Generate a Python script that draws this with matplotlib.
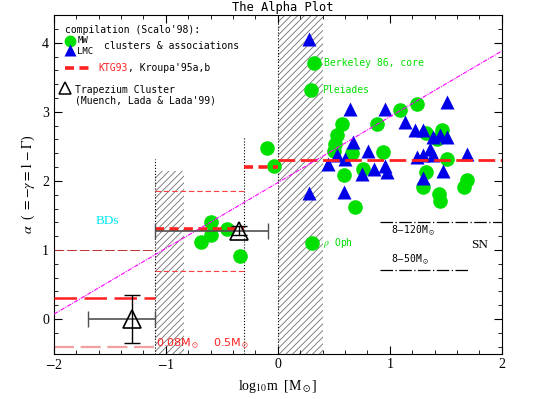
import matplotlib
matplotlib.use("Agg")
import matplotlib.pyplot as plt
import numpy as np

plt.rcParams['mathtext.fontset'] = 'stix'
plt.rcParams['hatch.color'] = '#707070'
plt.rcParams['hatch.linewidth'] = 0.6

# MW clusters & associations (Scalo'98 compilation)
mw_logm = [-0.60, -0.60, -0.69, -0.45, -0.34, -0.10, -0.03, 0.305, 0.32, 0.30,
           1.09, 0.57, 0.89, 0.53, 0.51, 0.50, 0.66, 0.94, 0.76, 0.59, 0.69,
           1.24, 1.32, 1.47, 1.42, 1.51, 1.32, 1.30, 1.44, 1.45, 1.69, 1.665]
mw_alpha = [1.40, 1.21, 1.11, 1.31, 0.91, 2.48, 2.21, 1.10, 3.71, 3.32,
            3.02, 2.82, 2.82, 2.67, 2.53, 2.44, 2.41, 2.42, 2.17, 2.08, 1.62,
            3.12, 2.70, 2.73, 2.61, 2.32, 2.13, 1.91, 1.81, 1.71, 2.02, 1.91]

# LMC clusters & associations
lmc_logm = [0.275, 0.647, 0.96, 1.51, 1.14, 0.67, 0.53, 0.81, 0.45, 0.60,
            0.75, 0.855, 0.96, 0.975, 0.28, 0.59,
            1.23, 1.30, 1.39, 1.45, 1.51, 1.36, 1.30, 1.39, 1.24, 1.69, 1.48, 1.30]
lmc_alpha = [4.05, 3.04, 3.04, 3.14, 2.85, 2.56, 2.37, 2.44, 2.25, 2.32,
             2.10, 2.17, 2.22, 2.13, 1.83, 1.84,
             2.74, 2.74, 2.63, 2.66, 2.64, 2.46, 2.37, 2.37, 2.34, 2.39, 2.14, 2.04]

# Trapezium (Muench, Lada & Lada'99)
trap_logm = [-1.30, -0.35]
trap_alpha = [0.0, 1.28]
trap_xlo = [-1.70, -1.10]
trap_xhi = [-1.10, -0.09]
trap_yerr = [0.35, 0.06]

# KTG93 / Kroupa'95 multi-part power law
ktg_edges = [-2.0, -1.1, -0.3, 0.0, 2.0]
ktg_alpha = [0.3, 1.3, 2.2, 2.3]
ktg_lo = [-0.4, 0.7]
ktg_hi = [1.0, 1.85]

# fit line (dash-dot)
fit_x = [-2.0, 2.0]
fit_y = [0.07, 3.88]

fig = plt.figure(figsize=(5.34, 3.99), dpi=100)
ax = fig.add_axes([0.101, 0.114, 0.8385, 0.848])

ax.set_xlim(-2, 2)
ax.set_ylim(-0.5, 4.4)

# hatched regions
ax.fill_between([-1.097, -0.84], -0.5, 2.15, facecolor='none', edgecolor='#707070',
                hatch='/////', linewidth=0)
ax.fill_between([0.0, 0.4], -0.5, 4.4, facecolor='none', edgecolor='#707070',
                hatch='/////', linewidth=0)

# dotted verticals
ax.plot([-1.097, -1.097], [-0.5, 2.32], color='k', ls=':', lw=0.8)
ax.plot([-0.301, -0.301], [-0.5, 2.63], color='k', ls=':', lw=0.8)
ax.plot([0.0, 0.0], [-0.5, 4.4], color='k', ls=':', lw=0.8)

# data points
ax.plot(mw_logm, mw_alpha, 'o', color='#00e000', ms=10.5, mec='none', zorder=3)
ax.plot(lmc_logm, lmc_alpha, '^', color='#0000e8', ms=10, mec='none', zorder=3)

# KTG93 segments
ax.plot(ktg_edges[0:2], [ktg_alpha[0]] * 2, color='#ff2020', lw=1.8, dashes=(9, 3), zorder=4)
ax.plot(ktg_edges[1:3], [ktg_alpha[1]] * 2, color='#ff2020', lw=2.6, dashes=(2.5, 1.5), zorder=4)
ax.plot(ktg_edges[2:4], [ktg_alpha[2]] * 2, color='#ff2020', lw=2.6, dashes=(2.5, 1.5), zorder=4)
ax.plot(ktg_edges[3:5], [ktg_alpha[3]] * 2, color='#ff2020', lw=2.0, dashes=(6, 2), zorder=4)
ax.plot(ktg_edges[0:2], [ktg_lo[0]] * 2, color='#f0a0a0', lw=1.6, dashes=(9, 3))
ax.plot(ktg_edges[0:2], [ktg_hi[0]] * 2, color='#c03030', lw=0.7, dashes=(10, 3))
ax.plot(ktg_edges[1:3], [ktg_lo[1]] * 2, color='#ff4040', lw=0.8, dashes=(5, 2.5))
ax.plot(ktg_edges[1:3], [ktg_hi[1]] * 2, color='#ff4040', lw=0.8, dashes=(5, 2.5))

# fit line
ax.plot(fit_x, fit_y, color='#ff00ff', lw=0.8, dashes=(4, 1, 1, 1), zorder=5)

# Trapezium points with error bars
for xm, ym, xl, xh, ye in zip(trap_logm, trap_alpha, trap_xlo, trap_xhi, trap_yerr):
    ax.errorbar([xm], [ym], xerr=[[xm - xl], [xh - xm]], fmt='none', ecolor='#505050',
                elinewidth=1.2, capsize=6, zorder=6)
    ax.errorbar([xm], [ym], yerr=ye, fmt='none', ecolor='k', elinewidth=1.0,
                capsize=6, zorder=6)
    ax.plot([xm], [ym], '^', mfc='none', mec='k', ms=13, mew=1.2, zorder=7)

# SN lines
mono = 'DejaVu Sans Mono'
ax.plot([0.91, 2.0], [1.40, 1.40], color='k', lw=0.9, dashes=(10, 2, 1, 2))
ax.plot([0.91, 1.71], [0.71, 0.71], color='k', lw=0.9, dashes=(10, 2, 1, 2))
ax.text(1.01, 1.27, '8$-$120M$_\\odot$', fontsize=7, family=mono, va='center')
ax.text(1.01, 0.85, '8$-$50M$_\\odot$', fontsize=7, family=mono, va='center')
ax.text(1.73, 1.07, 'SN', fontsize=9.5, family='Liberation Serif', va='center')

# labels on points
ax.text(0.41, 3.71, 'Berkeley 86, core', color='#00e000', fontsize=7, family=mono, va='center')
ax.text(0.40, 3.32, 'Pleiades', color='#00e000', fontsize=7, family=mono, va='center')
ax.text(0.40, 1.10, '$\\rho$ Oph', color='#00e000', fontsize=7, family=mono, va='center')
ax.text(-1.52, 1.42, 'BDs', color='#00e8f0', fontsize=9.5, family='Liberation Serif',
        ha='center', va='center')
ax.text(-1.09, -0.36, '0.08M$_\\odot$', color='#ff2020', fontsize=8, family='DejaVu Sans', va='center')
ax.text(-0.58, -0.36, '0.5M$_\\odot$', color='#ff2020', fontsize=8, family='DejaVu Sans', va='center')

# legend block
ax.text(-1.90, 4.18, "compilation (Scalo'98):", fontsize=7, family=mono, va='center')
ax.plot([-1.86], [4.03], 'o', color='#00e000', ms=8.5, mec='none')
ax.plot([-1.86], [3.89], '^', color='#0000e8', ms=8, mec='none')
ax.text(-1.79, 4.04, 'MW', fontsize=6.5, family=mono, va='center')
ax.text(-1.79, 3.88, 'LMC', fontsize=6.5, family=mono, va='center')
ax.text(-1.55, 3.96, 'clusters & associations', fontsize=7, family=mono, va='center')
ax.plot([-1.90, -1.67], [3.63, 3.63], color='#ff2020', lw=2.6, dashes=(2.5, 1.5))
ax.text(-1.60, 3.63, 'KTG93', color='#ff2020', fontsize=7, family=mono, va='center')
ax.text(-1.34, 3.63, ", Kroupa'95a,b", fontsize=7, family=mono, va='center')
ax.plot([-1.90], [3.34], '^', mfc='none', mec='k', ms=9, mew=1.1)
ax.text(-1.81, 3.31, 'Trapezium Cluster', fontsize=7, family=mono, va='center')
ax.text(-1.81, 3.17, "(Muench, Lada & Lada'99)", fontsize=7, family=mono, va='center')

# axes cosmetics
ax.set_xticks([-2, -1, 0, 1, 2])
ax.set_yticks([0, 1, 2, 3, 4])
ax.set_xticks(np.arange(-2, 2.01, 0.2), minor=True)
ax.set_yticks(np.arange(-0.4, 4.41, 0.2), minor=True)
ax.tick_params(which='both', direction='in', top=True, right=True)
ax.tick_params(which='major', length=6, labelsize=10)
ax.tick_params(which='minor', length=3)
ax.set_xticklabels(['$-$2', '$-$1', '0', '1', '2'])
for lab in ax.get_xticklabels() + ax.get_yticklabels():
    lab.set_family('Liberation Serif')

ax.set_xlabel('log$_{10}$m  [M$_\\odot$]', fontsize=10, family='Liberation Serif')
ax.set_ylabel('$\\alpha$  ( $= -\\gamma = 1 - \\Gamma$)', fontsize=10, family='Liberation Serif')
ax.set_title('The Alpha Plot', fontsize=8.7, family=mono, x=0.51, pad=3)

fig.savefig('out.png', dpi=100)
